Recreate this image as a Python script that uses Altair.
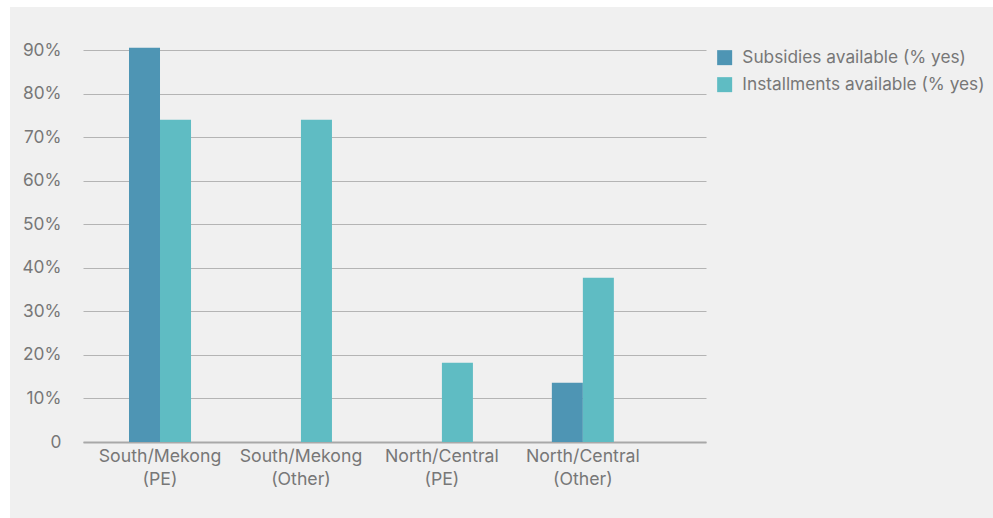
import altair as alt
import pandas as pd

regions = ["South/Mekong|(PE)", "South/Mekong|(Other)", "North/Central|(PE)", "North/Central|(Other)"]
series = ["Subsidies available (% yes)", "Installments available (% yes)"]
subsidies = [0.905, 0.0, 0.0, 0.136]
installments = [0.74, 0.74, 0.182, 0.377]
colors = ["#4e95b4", "#5fbcc3"]
y_ticks = [0, 0.1, 0.2, 0.3, 0.4, 0.5, 0.6, 0.7, 0.8, 0.9]

rows = []
for i, r in enumerate(regions):
    rows.append({"region": r, "series": series[0], "value": subsidies[i]})
    rows.append({"region": r, "series": series[1], "value": installments[i]})
df = pd.DataFrame(rows)

FONT = "Inter"
GREY = "#777777"
FS = 17.3

bars = alt.Chart(df).mark_bar().encode(
    x=alt.X("region:N", sort=regions,
            scale=alt.Scale(paddingInner=0.56, paddingOuter=0.49, align=0.333),
            axis=alt.Axis(title=None, labelAngle=0, labelExpr="split(datum.label, '|')",
                          labelFontSize=FS + 0.4, labelColor=GREY, labelFont=FONT,
                          labelLineHeight=23, labelPadding=5, ticks=False,
                          domainColor="#a8a8a8", domainWidth=2, grid=False)),
    xOffset=alt.XOffset("series:N", sort=series, scale=alt.Scale(paddingInner=0, paddingOuter=0)),
    y=alt.Y("value:Q", scale=alt.Scale(domain=[0, 0.9], nice=False),
            axis=alt.Axis(title=None, values=y_ticks,
                          labelExpr="datum.value == 0 ? '0' : format(datum.value, '.0%')",
                          labelFontSize=FS, labelColor=GREY, labelFont=FONT, labelPadding=22,
                          ticks=False, domain=False, gridColor="#b4b4b4", gridWidth=1)),
    color=alt.Color("series:N", sort=series,
                    scale=alt.Scale(domain=series, range=colors),
                    legend=alt.Legend(title=None, orient="none", legendX=633, legendY=-1,
                                      symbolType="square", symbolSize=225, symbolStrokeWidth=0,
                                      labelFontSize=FS, labelColor=GREY, labelFont=FONT,
                                      labelOffset=9, rowPadding=9, padding=0, labelLimit=0)),
)

strip_df = pd.DataFrame({"a": [0]})
left_strip = alt.Chart(strip_df).mark_rect(color="white").encode(
    x=alt.value(-83), x2=alt.value(-73), y=alt.value(-50), y2=alt.value(468)
)
top_strip = alt.Chart(strip_df).mark_rect(color="white").encode(
    x=alt.value(-83), x2=alt.value(910), y=alt.value(-50), y2=alt.value(-43)
)

chart = alt.layer(bars, left_strip, top_strip).properties(
    width=623, height=392,
    autosize=alt.AutoSizeParams(type="none"),
    padding={"left": 83, "top": 50, "right": 287, "bottom": 76},
    background="#f0f0f0",
).configure_view(stroke=None)

chart.save("out.html", embed_options={"renderer": "svg", "actions": False})
